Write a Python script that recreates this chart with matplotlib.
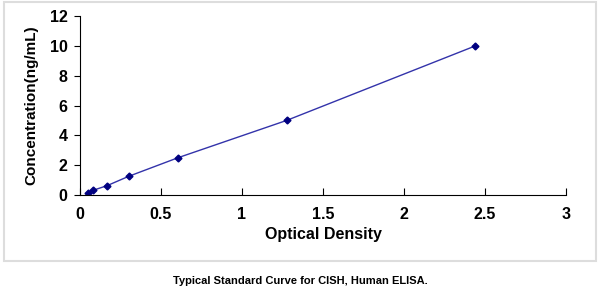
import matplotlib.pyplot as plt
from matplotlib.patches import Rectangle

od = [0.05, 0.08, 0.167, 0.30, 0.605, 1.275, 2.44]
conc = [0.156, 0.312, 0.625, 1.25, 2.5, 5, 10]
xticks = [0, 0.5, 1, 1.5, 2, 2.5, 3]
xticklabels = ['0', '0.5', '1', '1.5', '2', '2.5', '3']
yticks = [0, 2, 4, 6, 8, 10, 12]
yticklabels = ['0', '2', '4', '6', '8', '10', '12']

plt.rcParams['font.family'] = ['Liberation Sans', 'DejaVu Sans']
plt.rcParams['font.weight'] = 'bold'

fig = plt.figure(figsize=(6, 2.93), dpi=100)
fig.patches.append(Rectangle((0.006, 0.108), 0.988, 0.886, transform=fig.transFigure,
                             fill=False, edgecolor='#dddddd', linewidth=1.5))

ax = fig.add_axes([0.1333, 0.3345, 0.81, 0.6105])
ax.plot(od, conc, '-', color='#3333aa', linewidth=1)
ax.plot(od, conc, 'D', color='#000080', markersize=3.5, linestyle='none')

ax.set_xlim(0, 3)
ax.set_ylim(0, 12)
ax.set_xticks(xticks)
ax.set_xticklabels(xticklabels, fontsize=11.5, fontweight='bold')
ax.set_yticks(yticks)
ax.set_yticklabels(yticklabels, fontsize=11.5, fontweight='bold')
ax.spines['top'].set_visible(False)
ax.spines['right'].set_visible(False)
ax.tick_params(axis='x', direction='in', length=5, pad=9)
ax.tick_params(axis='y', direction='out', length=4, pad=5)
ax.set_xlabel('Optical Density', fontsize=11.5, fontweight='bold', labelpad=3)
ax.set_ylabel('Concentration(ng/mL)', fontsize=11, fontweight='bold', labelpad=8)

fig.text(0.5, 0.04, 'Typical Standard Curve for CISH, Human ELISA.',
         ha='center', va='center', fontsize=8, fontweight='bold')

fig.savefig('out.png', dpi=100)
